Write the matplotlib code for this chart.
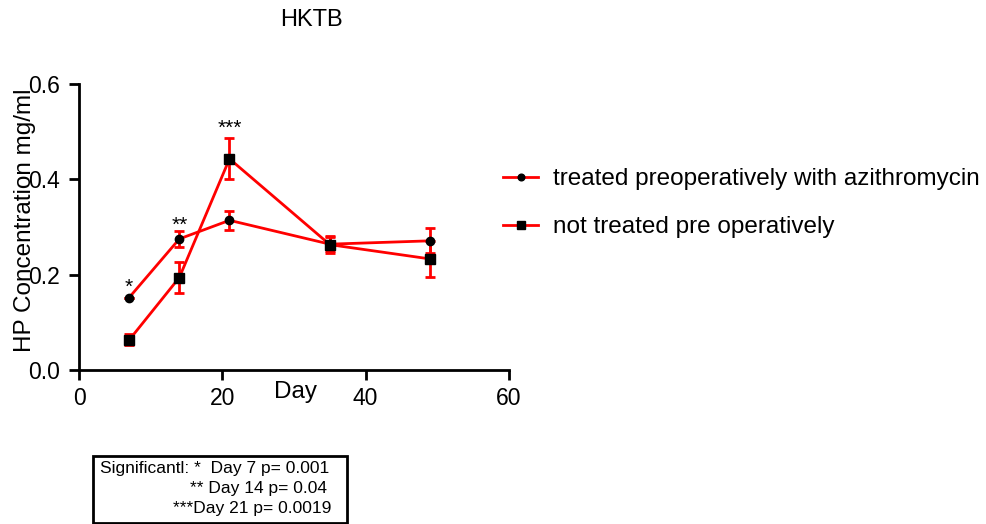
import matplotlib
matplotlib.use("Agg")
import matplotlib.pyplot as plt
from matplotlib.patches import Rectangle

plt.rcParams['font.family'] = ['Liberation Sans', 'DejaVu Sans']

# data
days = [7, 14, 21, 35, 49]
treated_mean = [0.152, 0.275, 0.314, 0.264, 0.271]
treated_err = [0.0, 0.016, 0.020, 0.015, 0.026]
untreated_mean = [0.063, 0.194, 0.443, 0.263, 0.233]
untreated_err = [0.0115, 0.032, 0.043, 0.018, 0.037]

star_days = [7, 14, 21]
star_labels = ['*', '**', '***']
star_y = [0.162, 0.292, 0.495]

series_labels = ['treated preoperatively with azithromycin',
                 'not treated pre operatively']
note_lines = ['Significantl: *  Day 7 p= 0.001',
              '** Day 14 p= 0.04',
              '***Day 21 p= 0.0019']

W, H = 987, 524
fig = plt.figure(figsize=(W / 100, H / 100), dpi=100)
ax = fig.add_axes([79 / W, (H - 370) / H, 430 / W, 286 / H])

# error bars first, lines and markers on top
for m, e in [(treated_mean, treated_err), (untreated_mean, untreated_err)]:
    ax.errorbar(days, m, yerr=e, fmt='none', ecolor='red', elinewidth=2,
                capsize=3.5, capthick=2, zorder=2)

h1, = ax.plot(days, treated_mean, color='red', lw=2, marker='o', ms=6,
              mfc='black', mec='black', label=series_labels[0], zorder=3)
h2, = ax.plot(days, untreated_mean, color='red', lw=2, marker='s', ms=6.5,
              mfc='black', mec='black', label=series_labels[1], zorder=3)

for d, s, y in zip(star_days, star_labels, star_y):
    ax.text(d, y, s, ha='center', va='baseline', fontsize=15)

ax.set_xlim(0, 60)
ax.set_ylim(0, 0.6)
ax.set_xticks([0, 20, 40, 60])
ax.set_yticks([0.0, 0.2, 0.4, 0.6])
ax.set_yticklabels(['0.0', '0.2', '0.4', '0.6'])
ax.tick_params(direction='out', length=7, width=2, labelsize=16.5)
ax.tick_params(axis='y', pad=7)
ax.tick_params(axis='x', pad=5)
for side in ['top', 'right']:
    ax.spines[side].set_visible(False)
for side in ['left', 'bottom']:
    ax.spines[side].set_linewidth(2)
for s in ax.spines.values():
    s.set_clip_on(False)

ax.set_xlabel('Day', fontsize=17.5)
ax.xaxis.set_label_coords((295 - 79) / 430, -0.04)

fig.text(25 / W, 1 - 220 / H, 'HP Concentration mg/ml', rotation=90,
         ha='center', va='center', fontsize=17.5)
fig.text(311.5 / W, 1 - 20 / H, 'HKTB', ha='center', va='center', fontsize=17)

leg = ax.legend(handles=[h1, h2], loc='upper left',
                bbox_to_anchor=(503 / W, 1 - 168 / H),
                bbox_transform=fig.transFigure, frameon=False,
                fontsize=17.5, handlelength=1.45, handletextpad=0.6,
                labelspacing=1.08, borderpad=0, borderaxespad=0,
                markerscale=0.8)

fig.patches.append(Rectangle((93 / W, 1 / H), 254 / W, 67 / H, fill=False,
                             lw=2, ec='black', transform=fig.transFigure))
fig.text(100 / W, 1 - 468 / H, note_lines[0], ha='left', va='center', fontsize=12.5)
fig.text(190 / W, 1 - 489 / H, note_lines[1], ha='left', va='center', fontsize=12.5)
fig.text(173 / W, 1 - 509 / H, note_lines[2], ha='left', va='center', fontsize=12.5)

fig.savefig('out.png', dpi=100)
